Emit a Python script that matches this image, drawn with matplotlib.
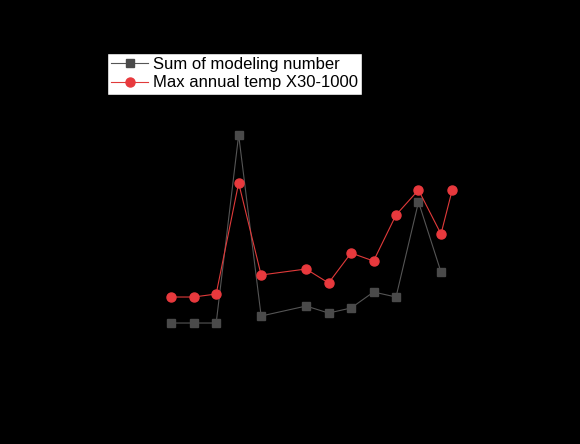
import matplotlib
matplotlib.use("Agg")
import matplotlib.pyplot as plt

gray_x = [0, 1, 2, 3, 4, 6, 7, 8, 9, 10, 11, 12]
gray_y = [77, 77, 77, 265, 84, 94, 87, 92, 108, 103, 198, 128]
red_x = [0, 1, 2, 3, 4, 6, 7, 8, 9, 10, 11, 12, 12.5]
red_y = [103, 103, 106, 217, 125, 131, 117, 147, 139, 185, 210, 166, 210]

plt.rcParams['font.family'] = ['Liberation Sans', 'DejaVu Sans']
fig = plt.figure(figsize=(5.8, 4.44), dpi=100, facecolor='black')
ax = fig.add_axes([0.22, 0.19, 0.6, 0.63], facecolor='black')
ax.plot(gray_x, gray_y, color='#555555', lw=0.8, marker='s', ms=5.5,
        markerfacecolor='#4a4a4a', markeredgecolor='#4a4a4a', label='Sum of modeling number')
ax.plot(red_x, red_y, color='#e03a3a', lw=0.8, marker='o', ms=6.5,
        markerfacecolor='#e8393d', markeredgecolor='#e8393d', label='Max annual temp X30-1000')
ax.set_xlim(-1.94, 13.54)
ax.set_ylim(40.4, 320)
for s in ax.spines.values():
    s.set_color('black')
ax.tick_params(colors='black')
leg = fig.legend(loc='upper left', bbox_to_anchor=(107/580, 1-53/444), fontsize=12,
                 frameon=True, fancybox=False, edgecolor='black', facecolor='white',
                 framealpha=1, borderpad=0.25, handlelength=2.2, handletextpad=0.3,
                 labelspacing=0.2, borderaxespad=0)
fig.savefig('out.png', dpi=100, facecolor='black')
